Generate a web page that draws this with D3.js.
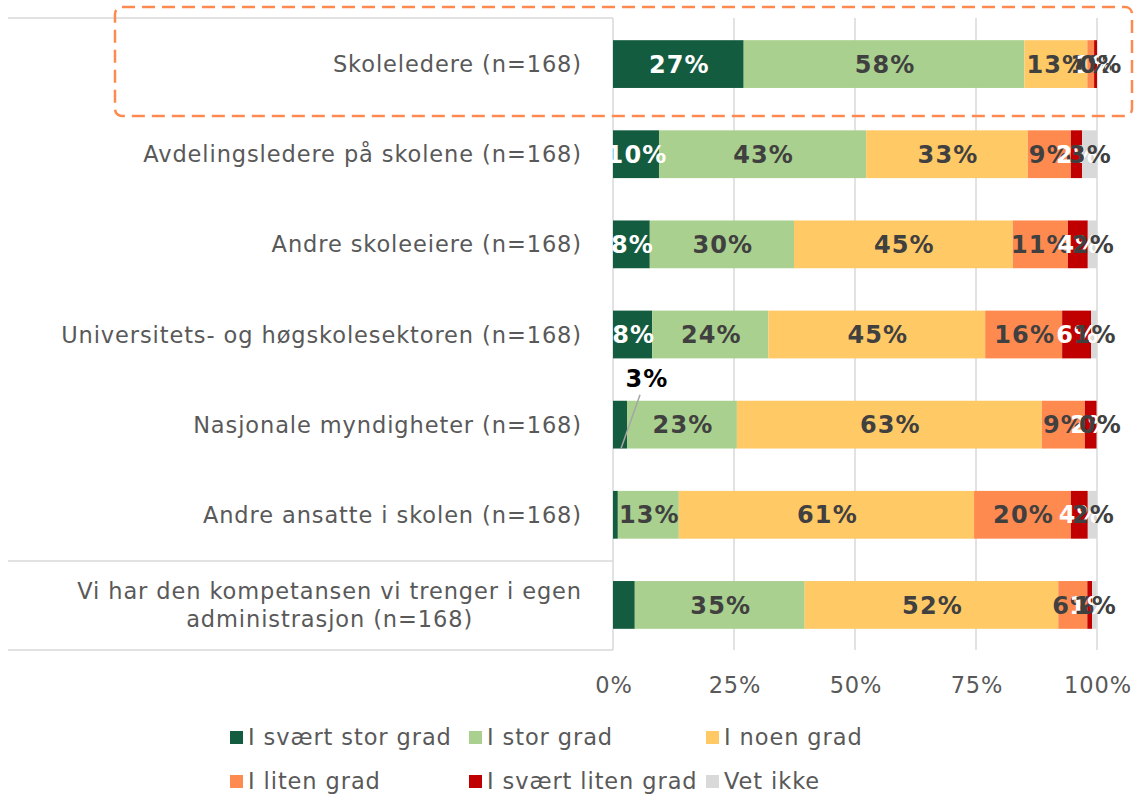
<!DOCTYPE html>
<html>
<head>
<meta charset="utf-8">
<style>
  body { margin: 0; background: #fff; }
  svg { display: block; font-family: "DejaVu Sans", Verdana, sans-serif; }
  .lbl { font-size: 22.5px; letter-spacing: 0.9px; fill: #595959; }
  .dl { font-size: 24px; font-weight: bold; letter-spacing: 1.1px; }
</style>
</head>
<body>
<svg width="1135" height="796"></svg>
<script src="https://d3js.org/d3.v7.min.js"></script>
<script>

var categories = [
  "Skoleledere (n=168)",
  "Avdelingsledere på skolene (n=168)",
  "Andre skoleeiere (n=168)",
  "Universitets- og høgskolesektoren (n=168)",
  "Nasjonale myndigheter (n=168)",
  "Andre ansatte i skolen (n=168)",
  "Vi har den kompetansen vi trenger i egen|administrasjon (n=168)"
];

var seriesNames = ["I svært stor grad", "I stor grad", "I noen grad", "I liten grad", "I svært liten grad", "Vet ikke"];
var seriesColors = ["#145C3F", "#A9D08E", "#FFC966", "#FF8A50", "#C00000", "#D9D9D9"];
var labelColors = ["#ffffff", "#404040", "#404040", "#404040", "#ffffff", "#404040"];

var svaertStor  = [27,   9.5,  7.6,  8.1,  2.9,  1.0,  4.5];
var stor        = [58,   42.8, 29.8, 24,   22.7, 12.6, 35.1];
var noen        = [13,   33.4, 45.2, 44.8, 63,   61,   52.4];
var liten       = [1.4,  8.9,  11.4, 15.9, 8.9,  20,   6];
var svaertLiten = [0.6,  2.3,  4.1,  6,    2.4,  3.5,  1];
var vetIkke     = [0,    3.1,  1.9,  1.2,  0,    1.9,  0.9];

var xTicks = [0, 25, 50, 75, 100];

var seriesValues = [svaertStor, stor, noen, liten, svaertLiten, vetIkke];

var svg = d3.select("svg");
var plotLeft = 613, plotRight = 1097, plotTop = 19, plotBottom = 650;

var x = d3.scaleLinear().domain([0, 100]).range([plotLeft, plotRight]);
var y = d3.scaleBand().domain(categories).range([plotTop, plotBottom]).paddingInner(0.47).paddingOuter(0.235);

// gridlines
svg.append("g").selectAll("line").data(xTicks).join("line")
  .attr("x1", d => x(d)).attr("x2", d => x(d))
  .attr("y1", plotTop - 1).attr("y2", plotBottom)
  .attr("stroke", "#d9d9d9").attr("stroke-width", 1.5);

// left frame lines of the category axis
var frame = svg.append("g").attr("stroke", "#d9d9d9").attr("stroke-width", 1.5);
frame.append("line").attr("x1", 8).attr("x2", plotLeft).attr("y1", plotTop - 1).attr("y2", plotTop - 1);
frame.append("line").attr("x1", 8).attr("x2", plotLeft).attr("y1", 561).attr("y2", 561);
frame.append("line").attr("x1", 8).attr("x2", plotLeft).attr("y1", plotBottom).attr("y2", plotBottom);

// stacked data
var stacked = [];
categories.forEach(function(c, i) {
  var cum = 0;
  seriesValues.forEach(function(vals, s) {
    stacked.push({cat: c, row: i, s: s, x0: cum, x1: cum + vals[i], v: vals[i]});
    cum += vals[i];
  });
});

svg.append("g").selectAll("rect").data(stacked).join("rect")
  .attr("x", d => x(d.x0))
  .attr("width", d => x(d.x1) - x(d.x0))
  .attr("y", d => y(d.cat))
  .attr("height", y.bandwidth())
  .attr("fill", d => seriesColors[d.s]);

// data labels
var hidden = function(d) { return d.s === 0 && d.row >= 4; };
svg.append("g").selectAll("text").data(stacked.filter(d => !hidden(d))).join("text")
  .attr("class", "dl")
  .attr("x", d => d.v === 0 ? x(d.x0) + 4 : (x(d.x0) + x(d.x1)) / 2 + 1)
  .attr("y", d => y(d.cat) + y.bandwidth() / 2)
  .attr("dy", "0.36em")
  .attr("text-anchor", "middle")
  .attr("fill", d => labelColors[d.s])
  .text(d => Math.round(d.v) + "%");

// callout for the small value in "Nasjonale myndigheter"
var cRow = categories[4];
var cx = (x(0) + x(svaertStor[4])) / 2;
svg.append("line")
  .attr("x1", cx + 1).attr("y1", y(cRow) + y.bandwidth())
  .attr("x2", cx + 20).attr("y2", y(cRow) - 6)
  .attr("stroke", "#a6a6a6").attr("stroke-width", 1.5);
svg.append("text")
  .attr("class", "dl")
  .attr("x", cx + 27).attr("y", y(cRow) - 14)
  .attr("text-anchor", "middle")
  .attr("fill", "#000")
  .text(Math.round(svaertStor[4]) + "%");

// category labels
var catG = svg.append("g").attr("class", "lbl");
categories.forEach(function(c) {
  var lines = c.split("|");
  var cyc = y(c) + y.bandwidth() / 2;
  if (lines.length === 1) {
    catG.append("text").attr("x", 582).attr("y", cyc).attr("dy", "0.36em")
      .attr("text-anchor", "end").text(c);
  } else {
    var t = catG.append("text").attr("text-anchor", "middle");
    var lh = 28;
    lines.forEach(function(l, k) {
      t.append("tspan").attr("y", cyc + (k - (lines.length - 1) / 2) * lh).attr("dy", "0.36em").text(l);
    });
    var w = d3.max(t.selectAll("tspan").nodes(), n => n.getComputedTextLength());
    t.selectAll("tspan").attr("x", 582 - w / 2);
  }
});

// x axis labels
svg.append("g").selectAll("text").data(xTicks).join("text")
  .attr("class", "lbl")
  .attr("x", d => x(d) + 1).attr("y", 693)
  .attr("text-anchor", "middle")
  .text(d => d + "%");

// highlight box around first row
svg.append("rect")
  .attr("x", 115).attr("y", 7).attr("width", 1017).attr("height", 109)
  .attr("rx", 7)
  .attr("fill", "none").attr("stroke", "#FF8A50").attr("stroke-width", 2.5)
  .attr("stroke-dasharray", "13,7");

// legend
var legX = [230, 469, 706];
var legY = [737, 781];
var leg = svg.append("g").selectAll("g").data(seriesNames).join("g")
  .attr("transform", (d, i) => "translate(" + legX[i % 3] + "," + legY[Math.floor(i / 3)] + ")");
leg.append("rect").attr("x", 0).attr("y", -6).attr("width", 13).attr("height", 13)
  .attr("fill", (d, i) => seriesColors[i]);
leg.append("text").attr("class", "lbl").attr("x", 18).attr("y", 0).attr("dy", "0.36em")
  .text(d => d);

</script>
</body>
</html>
